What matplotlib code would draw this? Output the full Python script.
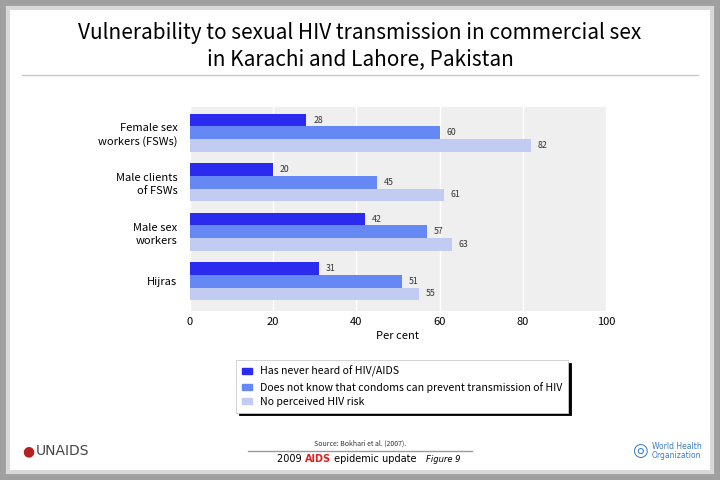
import matplotlib.pyplot as plt
import matplotlib.patches as mpatches
import numpy as np

plt.rcParams['font.family'] = ['Noto Sans CJK JP', 'DejaVu Sans']

groups = ['Female sex\nworkers (FSWs)', 'Male clients\nof FSWs', 'Male sex\nworkers', 'Hijras']
never_heard = [28, 20, 42, 31]
no_condom_knowledge = [60, 45, 57, 51]
no_risk = [82, 61, 63, 55]
series_names = ['Has never heard of HIV/AIDS',
                'Does not know that condoms can prevent transmission of HIV',
                'No perceived HIV risk']
colors = ['#2b2bf0', '#6688f4', '#c2ccf2']

fig = plt.figure(figsize=(7.2, 4.8), dpi=100)
fig.patch.set_facecolor('white')

# grey slide frame
fig.patches.append(mpatches.Rectangle((0, 0), 1, 1, transform=fig.transFigure,
                                      fill=False, edgecolor='#a0a0a0', linewidth=12, zorder=0))
fig.patches.append(mpatches.Rectangle((0.011, 0.016), 0.978, 0.968, transform=fig.transFigure,
                                      fill=False, edgecolor='#d8d8d8', linewidth=3, zorder=0))

fig.text(0.5, 0.903, 'Vulnerability to sexual HIV transmission in commercial sex\nin Karachi and Lahore, Pakistan',
         ha='center', va='center', fontsize=15, linespacing=1.3)
fig.add_artist(plt.Line2D([0.03, 0.97], [0.843, 0.843], color='#c8c8c8', linewidth=1))

ax = fig.add_axes([190 / 720, 1 - 311 / 480, 416 / 720, 204 / 480])
ax.set_facecolor('#efefef')
y = np.arange(len(groups))
h = 0.255
series = [never_heard, no_condom_knowledge, no_risk]
for i, vals in enumerate(series):
    pos = y + (i - 1) * h
    ax.barh(pos, vals, height=h, color=colors[i], zorder=2, label=series_names[i])
    for p, v in zip(pos, vals):
        ax.text(v + 1.6, p, str(v), va='center', ha='left', fontsize=6.3,
                style='italic', color='#333333', zorder=3)

ax.set_xlim(0, 100)
ax.set_ylim(len(groups) - 0.5 + 0.1, -0.5 - 0.02)
ax.set_xticks([0, 20, 40, 60, 80, 100])
ax.set_yticks(y)
ax.set_yticklabels(groups, fontsize=8, ha='right', linespacing=1.35)
ax.tick_params(axis='both', length=0, labelsize=8)
ax.tick_params(axis='y', pad=9)
ax.tick_params(axis='x', pad=4)
ax.grid(axis='x', color='white', linewidth=1, zorder=1)
for s in ax.spines.values():
    s.set_visible(False)
ax.set_xlabel('Per cent', fontsize=8, labelpad=3)

handles = [mpatches.Patch(color=c) for c in colors]
leg = fig.legend(handles, series_names, loc='upper left',
                 bbox_to_anchor=(231 / 720, 1 - 355 / 480), fontsize=7.6,
                 frameon=True, fancybox=False, edgecolor='#cccccc',
                 handlelength=0.9, handleheight=0.55, labelspacing=0.4,
                 borderpad=0.55, handletextpad=0.8,
                 shadow={'color': 'black', 'alpha': 1, 'ox': 2, 'oy': -2})
leg.get_frame().set_linewidth(0.6)

# footer
fig.add_artist(plt.Line2D([248 / 720, 472 / 720], [1 - 451 / 480, 1 - 451 / 480],
                          color='#999999', linewidth=1))
fig.text(360 / 720, 1 - 444 / 480, 'Source: Bokhari et al. (2007).', ha='center', va='center',
         fontsize=5, style='italic', color='#333333')

renderer = fig.canvas.get_renderer()
x = 277
pieces = [('2009 ', {}), ('AIDS', {'weight': 'bold', 'color': '#e02020'}),
          (' epidemic update   ', {}), ('Figure 9', {'style': 'italic', 'fontsize': 6})]
for txt, kw in pieces:
    opts = {'fontsize': 7, 'family': 'DejaVu Sans'}
    opts.update(kw)
    t = fig.text(x / 720, 1 - 459 / 480, txt, ha='left', va='center', **opts)
    x += t.get_window_extent(renderer).width

fig.text(36 / 720, 1 - 451 / 480, 'UNAIDS', ha='left', va='center', fontsize=10,
         color='#444444', family='DejaVu Sans')
fig.text(22 / 720, 1 - 451 / 480, '\u25CF', ha='left', va='center', fontsize=10,
         color='#b22222', family='DejaVu Sans')
fig.text(652 / 720, 1 - 451 / 480, 'World Health\nOrganization', ha='left', va='center',
         fontsize=5.5, color='#3a7fc0', linespacing=1.0, family='DejaVu Sans')
fig.text(632 / 720, 1 - 451 / 480, '\u25CE', ha='left', va='center', fontsize=13,
         color='#3a7fc0', family='DejaVu Sans')

fig.savefig('out.png', dpi=100)
